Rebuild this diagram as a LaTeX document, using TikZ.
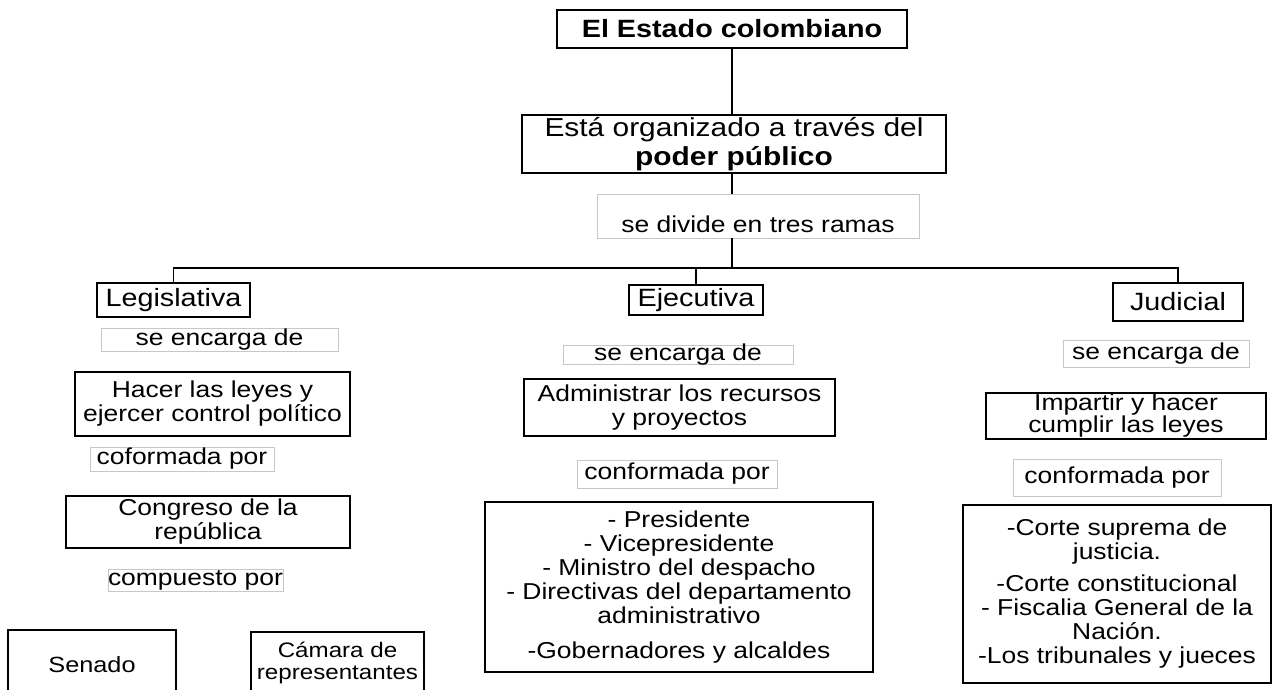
\documentclass[tikz,border=0pt]{standalone}
\usepackage{fontspec}
\setmainfont{Liberation Sans}[FakeStretch=1.15]
\tikzstyle{caja} = [rectangle, draw=black, line width=1.6pt, inner sep=0pt, align=center]
\tikzstyle{titulo} = [caja, font=\fontsize{25}{28}\selectfont\bfseries]
\tikzstyle{rama} = [caja, font=\fontsize{25}{26}\selectfont]
\tikzstyle{etiqueta} = [rectangle, draw=black!22, line width=0.8pt, inner sep=0pt, text height=15pt, text depth=4pt]
\tikzstyle{linea} = [line width=1.6pt]

\begin{document}
\begin{tikzpicture}[node distance=60pt, font=\fontsize{23}{24}\selectfont]
\useasboundingbox (0,0) rectangle (1273pt,-689pt);
\clip (0,0) rectangle (1273pt,-689pt);

\node (estado) [titulo, minimum width=350pt, minimum height=38pt] at (732pt,-29pt) {El Estado colombiano};
\node (poder) [caja, font=\fontsize{26}{29}\selectfont, minimum width=424pt, minimum height=58pt, below of=estado, yshift=-55pt, xshift=2pt] {Está organizado a través del\\\textbf{poder público}};
\draw [linea] (estado.south) -- (estado.south |- poder.north);
\node (divide) [etiqueta, text height=38pt, text depth=6pt, minimum width=322pt, below of=poder, yshift=-12pt, xshift=24pt] {se divide en tres ramas};
\coordinate [below of=poder, yshift=-64pt, xshift=-2pt] (rama);
\draw [linea] (poder.south -| rama) -- (divide.north -| rama);
\draw [linea] (divide.south -| rama) -- (rama);

% ramas
\node (ejec) [rama, minimum width=134pt, minimum height=30pt, below of=rama, yshift=28pt, xshift=-36pt] {Ejecutiva};
\node (legis) [rama, minimum width=153pt, minimum height=34pt, left of=ejec, xshift=-462.5pt] {Legislativa};
\node (judicial) [rama, minimum width=130pt, minimum height=38pt, right of=ejec, xshift=422pt, yshift=-2pt] {Judicial};
\draw [linea] (rama) -| (legis);
\draw [linea] (rama) -| (ejec);
\draw [linea] (rama) -| (judicial);

% legislativa
\node (encL) [etiqueta, minimum width=237pt, minimum height=23pt, below of=legis, yshift=20.5pt, xshift=46pt] {se encarga de};
\node (hacer) [caja, minimum width=275pt, minimum height=64pt, below of=encL, yshift=-4.5pt, xshift=-7pt] {Hacer las leyes y\\ejercer control político};
\node (cofL) [etiqueta, minimum width=184pt, minimum height=24pt, below of=hacer, yshift=5pt, xshift=-30.5pt] {coformada por};
\node (congreso) [caja, minimum width=284pt, minimum height=52pt, below of=cofL, yshift=-3pt, xshift=26pt] {Congreso de la\\república};
\node (compL) [etiqueta, minimum width=175pt, minimum height=22pt, below of=congreso, yshift=2pt, xshift=-12.5pt] {compuesto por};
\node (senado) [caja, font=\fontsize{22}{22}\selectfont, minimum width=168pt, minimum height=70pt, below of=compL, yshift=-25pt, xshift=-103.5pt] {Senado};
\node (camara) [caja, font=\fontsize{21}{22}\selectfont, minimum width=173pt, minimum height=62pt, right of=senado, xshift=185.5pt, yshift=2pt] {Cámara de\\representantes};

% ejecutiva
\node (encE) [etiqueta, minimum width=230pt, minimum height=19pt, below of=ejec, yshift=5.5pt, xshift=-18pt] {se encarga de};
\node (admin) [caja, minimum width=311pt, minimum height=57pt, below of=encE, yshift=7pt, xshift=1.5pt] {Administrar los recursos\\y proyectos};
\node (confE) [etiqueta, minimum width=200pt, minimum height=28pt, below of=admin, yshift=-6.5pt, xshift=-2.5pt] {conformada por};
\node (miembrosE) [caja, minimum width=388pt, minimum height=170pt, below of=confE, yshift=-53pt, xshift=2pt] {- Presidente\\- Vicepresidente\\- Ministro del despacho\\- Directivas del departamento\\administrativo\\[11pt]-Gobernadores y alcaldes};

% judicial
\node (encJ) [etiqueta, minimum width=186pt, minimum height=27pt, below of=judicial, yshift=8.5pt, xshift=-22pt] {se encarga de};
\node (impartir) [caja, font=\fontsize{23}{22}\selectfont, minimum width=280pt, minimum height=46pt, below of=encJ, yshift=-2.5pt, xshift=-30pt] {Impartir y hacer\\cumplir las leyes};
\node (confJ) [etiqueta, minimum width=208pt, minimum height=37pt, below of=impartir, yshift=-1.5pt, xshift=-9pt] {conformada por};
\node (miembrosJ) [caja, minimum width=308pt, minimum height=178pt, below of=confJ, yshift=-56.5pt] {-Corte suprema de\\justicia.\\[8pt]-Corte constitucional\\- Fiscalia General de la\\Nación.\\-Los tribunales y jueces};

\end{tikzpicture}
\end{document}
